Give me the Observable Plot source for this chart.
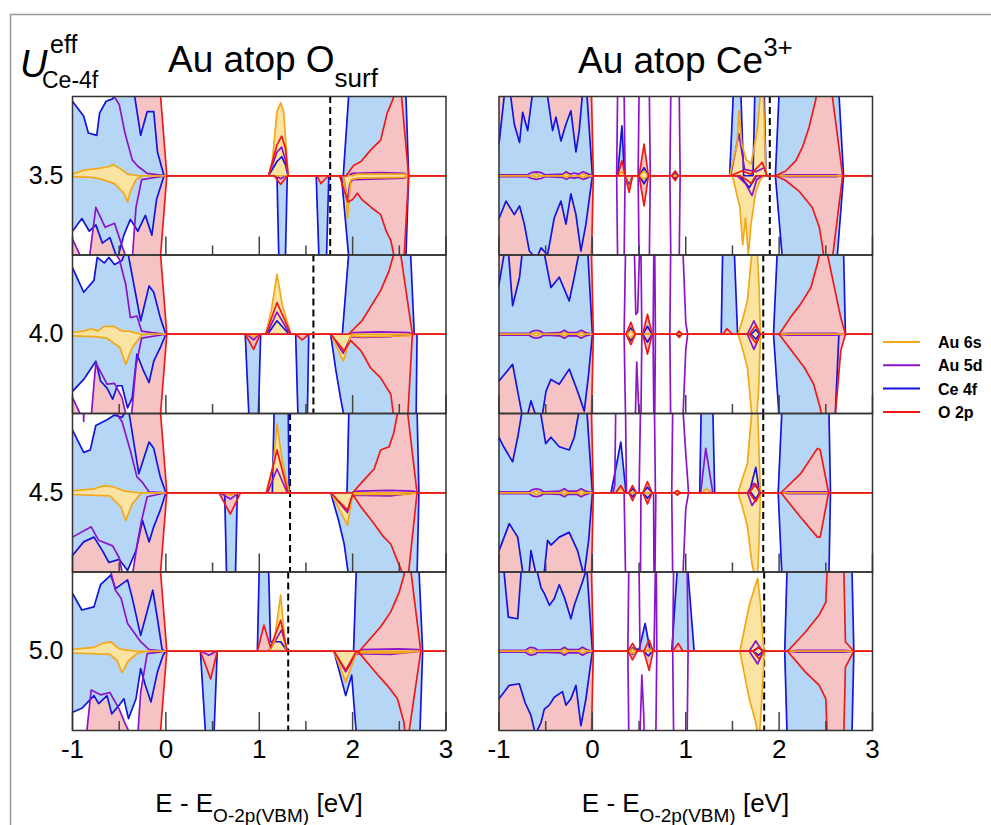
<!DOCTYPE html>
<html><head><meta charset="utf-8">
<script src="https://cdn.jsdelivr.net/npm/d3@7"></script>
<script src="https://cdn.jsdelivr.net/npm/@observablehq/plot@0.6"></script>
<style>
body{margin:0;background:#fff;}
#wrap{position:relative;width:991px;height:825px;overflow:hidden;font-family:"Liberation Sans",Arial,sans-serif;background:#fff;}
#wrap svg{position:absolute;left:0;top:0;}
</style></head><body><div id="wrap"></div>
<script>
// ---- categories ----
const columns = ["O", "Ce"];              // Au atop O_surf, Au atop Ce3+
const uValues = ["3.5", "4.0", "4.5", "5.0"];
const xTicks = [-1, 0, 1, 2, 3];
const xMinorTicks = [-0.5, 0.5, 1.5, 2.5];
const legendLabels = ["Au 6s", "Au 5d", "Ce 4f", "O 2p"];
const fermiLeft = [1.76, 1.58, 1.33, 1.31];
const fermiRight = [1.9, 1.83, 1.83, 1.84];

// ---- PDOS (flat [E, value] pairs; spin-down stored as magnitudes) ----
// Au atop O_surf, U = 3.5
const L35_o_up = [-1.05,2, -0.06,1.05, 0.01,0, 1.1,0, 1.19,0.39, 1.24,0.5, 1.28,0.35, 1.31,0, 1.93,0, 2.01,0.13, 2.09,0.18, 2.19,0.32, 2.3,0.45, 2.37,0.79, 2.43,0.96, 2.45,1.05, 2.49,1.5, 2.52,1.05, 2.6,0, 3.05,0];
const L35_o_dn = [-1.05,2, -0.06,1.05, 0.01,0, 1.16,0, 1.23,0.11, 1.3,0, 1.62,0, 1.66,0.1, 1.7,0.05, 1.74,0, 1.86,0, 1.9,0.15, 1.95,0.33, 2.0,0.3, 2.05,0.22, 2.1,0.3, 2.2,0.4, 2.3,0.49, 2.36,0.7, 2.41,0.82, 2.45,1.05, 2.5,1.4, 2.55,1.05, 2.6,0, 3.05,0];
const L35_ce_up = [-1.05,0.95, -1.0,0.94, -0.88,0.75, -0.83,0.54, -0.74,0.51, -0.71,0.79, -0.64,0.94, -0.57,0.97, -0.53,1.05, -0.34,1.05, -0.27,0.51, -0.2,0.81, -0.13,0.81, -0.09,0.3, -0.02,0, 1.1,0, 1.19,0.18, 1.24,0.24, 1.28,0.14, 1.31,0, 1.9,0, 1.96,1.05, 2.0,1.6, 2.55,1.6, 2.57,1.05, 2.6,0, 3.05,0];
const L35_ce_dn = [-1.05,0.75, -1.0,0.7, -0.9,0.54, -0.82,0.7, -0.75,0.62, -0.68,0.85, -0.6,0.78, -0.52,1.05, -0.45,0.75, -0.38,0.55, -0.3,0.7, -0.22,0.5, -0.15,0.75, -0.1,0.3, -0.02,0, 1.19,0, 1.21,1.05, 1.28,1.05, 1.3,0, 1.61,0, 1.64,1.05, 1.72,1.05, 1.745,0, 1.88,0, 1.96,1.05, 2.0,1.6, 2.55,1.6, 2.57,1.05, 2.6,0, 3.05,0];
const L35_d_up = [-1.05,2, -0.62,2, -0.58,1.05, -0.5,0.9, -0.44,0.55, -0.36,0.2, -0.3,0.12, -0.2,0.03, 0.0,0, 1.1,0, 1.19,0.3, 1.24,0.36, 1.28,0.2, 1.31,0, 1.95,0, 2.0,0.03, 2.3,0.04, 2.55,0.03, 2.6,0, 3.05,0];
const L35_d_dn = [-1.05,0.9, -1.0,0.8, -0.9,1.05, -0.82,1.05, -0.75,0.4, -0.65,0.65, -0.55,0.6, -0.48,0.85, -0.42,1.05, -0.36,1.05, -0.32,0.4, -0.26,0.05, 0.0,0, 1.18,0, 1.23,0.04, 1.28,0, 1.9,0, 1.93,0.2, 1.945,0.33, 1.97,0.1, 2.0,0.05, 2.3,0.04, 2.55,0.03, 2.6,0, 3.05,0];
const L35_s_up = [-1.05,0.01, -1.0,0.02, -0.88,0.07, -0.74,0.09, -0.63,0.11, -0.56,0.14, -0.49,0.09, -0.41,0.02, -0.3,0, 1.1,0, 1.14,0.18, 1.16,0.43, 1.19,0.81, 1.23,0.92, 1.26,0.81, 1.28,0.5, 1.31,0, 2.0,0, 2.05,0.02, 2.55,0.02, 2.6,0, 3.05,0];
const L35_s_dn = [-1.05,0.01, -0.8,0.02, -0.7,0.04, -0.55,0.1, -0.45,0.22, -0.41,0.33, -0.38,0.2, -0.32,0.05, -0.25,0, 1.9,0, 1.93,0.2, 1.945,0.54, 1.96,0.35, 1.98,0.05, 2.05,0.03, 2.55,0.02, 2.6,0, 3.05,0];
// Au atop O_surf, U = 4.0
const L40_o_up = [-1.05,2, -0.06,1.05, 0.01,0, 1.07,0, 1.19,0.4, 1.34,0, 1.955,0, 2.1,0.17, 2.19,0.34, 2.3,0.55, 2.39,0.8, 2.44,1.01, 2.48,1.5, 2.51,1.05, 2.64,0, 3.05,0];
const L40_o_dn = [-1.05,2, -0.06,1.05, 0.01,0, 0.85,0, 0.94,0.19, 1.01,0, 1.39,0, 1.46,0.07, 1.53,0, 1.765,0, 1.91,0.21, 1.98,0.08, 2.09,0.21, 2.19,0.42, 2.3,0.55, 2.41,0.76, 2.44,1.05, 2.5,1.5, 2.59,1.05, 2.64,0, 3.05,0];
const L40_ce_up = [-1.05,0.9, -1.0,0.84, -0.88,0.53, -0.77,0.68, -0.735,0.97, -0.66,0.9, -0.61,0.97, -0.55,0.88, -0.47,0.93, -0.43,1.05, -0.41,1.05, -0.27,0.17, -0.18,0.61, -0.13,0.53, -0.06,0.21, 0.0,0, 1.09,0, 1.19,0.17, 1.32,0, 1.89,0, 1.96,1.05, 2.0,1.6, 2.58,1.6, 2.62,1.05, 2.66,0, 3.05,0];
const L40_ce_dn = [-1.05,0.75, -1.0,0.72, -0.88,0.57, -0.75,0.34, -0.7,0.59, -0.63,0.68, -0.57,0.82, -0.52,0.65, -0.47,0.65, -0.41,0.93, -0.36,0.8, -0.31,0.25, -0.24,0.46, -0.18,0.61, -0.13,0.34, -0.06,0.17, 0.0,0, 0.85,0, 0.89,1.05, 0.99,1.05, 1.015,0, 1.39,0, 1.415,1.05, 1.515,1.05, 1.53,0, 1.765,0, 1.82,0.45, 1.87,0.8, 1.91,1.05, 1.95,1.6, 2.64,1.6, 2.68,1.05, 2.69,0, 3.05,0];
const L40_d_up = [-1.05,2, -0.6,2, -0.56,1.05, -0.5,0.95, -0.43,0.63, -0.38,0.21, -0.31,0.23, -0.26,0.04, -0.15,0.02, 0.0,0, 1.08,0, 1.19,0.28, 1.33,0, 1.96,0, 2.0,0.02, 2.3,0.03, 2.6,0.02, 2.65,0, 3.05,0];
const L40_d_dn = [-1.05,0.9, -1.0,0.8, -0.9,1.05, -0.8,1.05, -0.75,0.36, -0.63,0.63, -0.55,0.62, -0.47,0.8, -0.42,1.05, -0.37,1.05, -0.32,0.4, -0.26,0.05, 0.0,0, 0.87,0, 0.94,0.07, 1.0,0, 1.77,0, 1.9,0.24, 1.98,0.03, 2.1,0.04, 2.4,0.03, 2.62,0, 3.05,0];
const L40_s_up = [-1.05,0.02, -0.88,0.04, -0.8,0.07, -0.73,0.04, -0.66,0.1, -0.56,0.1, -0.47,0.04, -0.4,0.04, -0.26,0, 1.07,0, 1.13,0.3, 1.19,0.76, 1.25,0.35, 1.34,0, 3.05,0];
const L40_s_dn = [-1.05,0.02, -0.77,0.03, -0.63,0.05, -0.49,0.17, -0.43,0.38, -0.36,0.17, -0.26,0.01, -0.2,0, 0.88,0, 0.94,0.03, 0.99,0, 1.77,0, 1.9,0.34, 1.98,0.02, 2.1,0.03, 2.6,0.02, 2.65,0, 3.05,0];
// Au atop O_surf, U = 4.5
const L45_o_up = [-1.05,2, -0.06,1.05, 0.01,0, 1.08,0, 1.19,0.54, 1.31,0, 2.0,0, 2.12,0.16, 2.23,0.3, 2.3,0.54, 2.39,0.58, 2.44,0.75, 2.48,1.0, 2.52,1.5, 2.59,1.0, 2.69,0, 3.05,0];
const L45_o_dn = [-1.05,2, -0.06,1.05, 0.01,0, 0.57,0, 0.69,0.27, 0.8,0, 1.765,0, 1.944,0.22, 2.0,0.02, 2.09,0.18, 2.23,0.39, 2.32,0.54, 2.41,0.65, 2.48,0.86, 2.53,1.0, 2.56,1.5, 2.6,1.0, 2.69,0, 3.05,0];
const L45_ce_up = [-1.05,0.82, -1.0,0.79, -0.88,0.51, -0.81,0.54, -0.75,0.85, -0.63,0.92, -0.55,0.98, -0.47,0.95, -0.42,1.05, -0.4,1.05, -0.29,0.24, -0.18,0.64, -0.13,0.56, -0.06,0.2, 0.0,0, 1.14,0, 1.16,1.05, 1.31,1.05, 1.32,0, 1.94,0, 1.96,1.05, 2.0,1.6, 2.66,1.6, 2.69,1.05, 2.71,0, 3.05,0];
const L45_ce_dn = [-1.05,0.8, -1.0,0.79, -0.88,0.62, -0.77,0.56, -0.68,0.73, -0.61,0.88, -0.5,0.84, -0.41,0.98, -0.32,0.73, -0.25,0.35, -0.18,0.62, -0.13,0.43, -0.06,0.22, 0.0,0, 0.63,0, 0.65,1.05, 0.745,1.05, 0.765,0, 1.765,0, 1.85,0.35, 1.91,0.65, 1.944,0.94, 1.96,1.05, 2.0,1.6, 2.66,1.6, 2.69,1.05, 2.71,0, 3.05,0];
const L45_d_up = [-1.05,2, -0.9,2, -0.88,0.9, -0.86,2, -0.6,2, -0.56,1.05, -0.47,0.9, -0.38,0.53, -0.31,0.2, -0.25,0.13, -0.18,0.01, 0.0,0, 1.09,0, 1.19,0.3, 1.3,0, 2.0,0, 2.05,0.02, 2.4,0.03, 2.65,0.02, 2.7,0, 3.05,0];
const L45_d_dn = [-1.05,0.6, -1.0,0.56, -0.8,0.43, -0.72,0.6, -0.57,0.67, -0.5,0.82, -0.46,1.05, -0.36,1.05, -0.3,0.6, -0.26,0.35, -0.2,0.05, 0.0,0, 0.58,0, 0.69,0.08, 0.78,0, 1.77,0, 1.944,0.25, 2.0,0.03, 2.4,0.04, 2.69,0, 3.05,0];
const L45_s_up = [-1.05,0.02, -0.77,0.05, -0.66,0.09, -0.55,0.07, -0.44,0.02, -0.3,0, 1.07,0, 1.15,0.35, 1.19,0.87, 1.24,0.45, 1.32,0, 3.05,0];
const L45_s_dn = [-1.05,0.02, -0.6,0.04, -0.48,0.18, -0.43,0.35, -0.36,0.14, -0.26,0, 0.6,0, 0.69,0.03, 0.77,0, 1.77,0, 1.944,0.41, 2.0,0.02, 2.6,0.02, 2.69,0, 3.05,0];
// Au atop O_surf, U = 5.0
const L50_o_up = [-1.05,2, -0.06,1.05, 0.01,0, 0.98,0, 1.05,0.33, 1.12,0.05, 1.23,0.39, 1.3,0, 2.07,0, 2.16,0.12, 2.3,0.31, 2.41,0.5, 2.5,0.75, 2.55,0.96, 2.58,1.5, 2.62,1.05, 2.73,0, 3.05,0];
const L50_o_dn = [-1.05,2, -0.06,1.05, 0.01,0, 0.37,0, 0.48,0.35, 0.55,0, 1.8,0, 1.926,0.24, 2.04,0.0, 2.07,0.02, 2.27,0.3, 2.37,0.43, 2.48,0.6, 2.55,0.9, 2.58,1.3, 2.6,1.05, 2.73,0, 3.05,0];
const L50_ce_up = [-1.05,0.75, -1.0,0.73, -0.9,0.52, -0.77,0.56, -0.7,0.84, -0.59,0.96, -0.54,0.79, -0.48,0.84, -0.41,0.9, -0.36,0.67, -0.27,0.2, -0.14,0.77, -0.09,0.41, -0.04,0.02, 0.0,0, 0.98,0, 1.0,1.05, 1.1,1.05, 1.12,0.12, 1.23,0.12, 1.3,0, 2.01,0, 2.04,1.05, 2.08,1.6, 2.68,1.6, 2.71,1.05, 2.75,0, 3.05,0];
const L50_ce_dn = [-1.05,0.8, -1.0,0.77, -0.9,0.72, -0.77,0.56, -0.72,0.66, -0.63,0.56, -0.58,0.79, -0.5,0.68, -0.45,0.6, -0.4,0.85, -0.32,0.6, -0.27,0.22, -0.22,0.43, -0.16,0.64, -0.09,0.26, -0.03,0.05, 0.0,0, 0.37,0, 0.425,1.05, 0.515,1.05, 0.55,0, 1.8,0, 1.926,0.56, 1.99,0.3, 2.04,1.05, 2.08,1.6, 2.7,1.6, 2.72,1.05, 2.75,0, 3.05,0];
const L50_d_up = [-1.05,2, -0.66,2, -0.6,1.05, -0.54,0.77, -0.48,0.67, -0.41,0.35, -0.27,0.12, -0.18,0.02, 0.0,0, 1.08,0, 1.12,0.03, 1.24,0.27, 1.3,0, 2.07,0, 2.1,0.02, 2.5,0.03, 2.7,0.02, 2.75,0, 3.05,0];
const L50_d_dn = [-1.05,1.05, -0.85,1.05, -0.8,0.49, -0.7,0.55, -0.6,0.52, -0.5,0.73, -0.43,0.93, -0.38,1.05, -0.3,1.05, -0.27,0.52, -0.2,0.03, 0.0,0, 0.38,0, 0.46,0.05, 0.54,0, 1.8,0, 1.926,0.26, 2.04,0.03, 2.4,0.04, 2.73,0, 3.05,0];
const L50_s_up = [-1.05,0.02, -0.77,0.05, -0.68,0.1, -0.59,0.12, -0.5,0.03, -0.4,0.01, -0.3,0, 1.1,0, 1.16,0.12, 1.23,0.71, 1.28,0.05, 1.3,0, 3.05,0];
const L50_s_dn = [-1.05,0.02, -0.6,0.04, -0.52,0.12, -0.47,0.27, -0.4,0.12, -0.3,0.02, -0.2,0, 1.8,0, 1.926,0.39, 2.04,0.02, 2.5,0.02, 2.73,0, 3.05,0];
// Au atop Ce3+, U = 3.5
const R35_o_up = [-1.05,2, -0.01,1.05, 0.01,0, 0.27,0, 0.316,0.19, 0.35,0, 0.5,0, 0.554,0.4, 0.6,0, 0.85,0, 0.886,0.06, 0.92,0, 1.48,0, 1.6,0.06, 1.7,0.02, 1.82,0.17, 1.87,0, 1.963,0, 2.07,0.06, 2.18,0.19, 2.25,0.36, 2.32,0.61, 2.39,0.95, 2.43,1.2, 2.5,1.4, 2.55,1.2, 2.57,1.0, 2.68,0, 3.05,0];
const R35_o_dn = [-1.05,2, -0.01,1.05, 0.01,0, 0.35,0, 0.394,0.21, 0.43,0, 0.5,0, 0.554,0.38, 0.6,0, 0.85,0, 0.886,0.06, 0.92,0, 1.58,0, 1.65,0.05, 1.7,0.1, 1.75,0, 1.963,0, 2.07,0.06, 2.21,0.19, 2.355,0.4, 2.43,0.65, 2.46,0.86, 2.48,1.05, 2.52,1.3, 2.57,1.05, 2.68,0, 3.05,0];
const R35_ce_up = [-1.05,0.3, -0.996,0.44, -0.94,1.05, -0.88,1.05, -0.836,0.65, -0.78,0.42, -0.747,0.8, -0.693,0.57, -0.64,1.05, -0.53,1.05, -0.48,1.0, -0.426,0.57, -0.39,0.74, -0.337,0.44, -0.283,0.65, -0.23,0.82, -0.176,0.3, -0.141,0.57, -0.105,1.05, -0.06,1.05, 0.0,0, 0.27,0, 0.3,0.4, 0.316,0.63, 0.335,0.2, 0.35,0, 0.5,0, 0.554,0.1, 0.6,0, 0.85,0, 0.886,0.04, 0.92,0, 1.47,0, 1.51,1.05, 1.59,1.05, 1.62,0, 1.72,0, 1.74,1.05, 1.84,1.05, 1.86,0, 1.96,0, 2.0,1.05, 2.04,1.6, 2.6,1.6, 2.64,1.05, 2.69,0, 3.05,0];
const R35_ce_dn = [-1.05,0.6, -0.996,0.53, -0.925,0.32, -0.836,0.49, -0.78,0.38, -0.729,0.61, -0.675,0.95, -0.6,1.05, -0.55,0.91, -0.48,1.0, -0.408,0.53, -0.337,0.32, -0.283,0.61, -0.23,0.23, -0.176,0.49, -0.123,0.95, -0.069,0.61, 0.0,0, 0.35,0, 0.394,0.12, 0.43,0, 0.5,0, 0.554,0.1, 0.6,0, 0.85,0, 0.886,0.04, 0.92,0, 1.58,0, 1.68,0.15, 1.76,0, 1.96,0, 2.035,1.05, 2.07,1.6, 2.58,1.6, 2.62,1.05, 2.69,0, 3.05,0];
const R35_d_up = [-1.05,0.01, -0.7,0.01, -0.65,0.04, -0.6,0.05, -0.55,0.04, -0.5,0.01, -0.32,0.02, -0.28,0.05, -0.24,0.02, -0.19,0.035, -0.15,0.02, -0.1,0.05, -0.06,0.03, 0.0,0, 0.26,0, 0.27,1.05, 0.28,2, 0.33,2, 0.34,1.05, 0.35,0, 0.49,0, 0.5,1.05, 0.51,2, 0.6,2, 0.61,1.05, 0.62,0, 0.83,0, 0.84,1.05, 0.85,2, 0.92,2, 0.93,1.05, 0.94,0, 1.48,0, 1.57,0.53, 1.63,0.08, 1.75,0.05, 1.84,0.1, 1.87,0, 1.97,0, 2.1,0.01, 2.6,0.01, 2.7,0, 3.05,0];
const R35_d_dn = [-1.05,0.01, -0.7,0.01, -0.65,0.035, -0.6,0.045, -0.55,0.035, -0.5,0.01, -0.32,0.02, -0.28,0.045, -0.24,0.02, -0.19,0.03, -0.15,0.02, -0.1,0.045, -0.06,0.03, 0.0,0, 0.26,0, 0.27,1.05, 0.28,2, 0.33,2, 0.34,1.05, 0.35,0, 0.49,0, 0.5,1.05, 0.51,2, 0.6,2, 0.61,1.05, 0.62,0, 0.83,0, 0.84,1.05, 0.85,2, 0.92,2, 0.93,1.05, 0.94,0, 1.55,0, 1.64,0.1, 1.71,0.25, 1.76,0.05, 1.82,0, 1.97,0, 2.1,0.01, 2.6,0.01, 2.7,0, 3.05,0];
const R35_s_up = [-1.05,0, -0.64,0, -0.6,0.025, -0.56,0, -0.32,0, -0.28,0.025, -0.24,0, -0.14,0, -0.1,0.025, -0.06,0, 0.27,0, 0.316,0.05, 0.35,0, 0.5,0, 0.554,0.06, 0.6,0, 1.47,0, 1.55,0.4, 1.57,0.82, 1.6,0.4, 1.65,0.2, 1.7,0.15, 1.77,0.6, 1.8,1.05, 1.83,1.05, 1.86,0, 3.05,0];
const R35_s_dn = [-1.05,0, -0.64,0, -0.6,0.025, -0.56,0, -0.32,0, -0.28,0.025, -0.24,0, -0.14,0, -0.1,0.025, -0.06,0, 0.35,0, 0.394,0.17, 0.43,0, 0.5,0, 0.554,0.04, 0.6,0, 1.5,0, 1.58,0.4, 1.61,0.87, 1.64,0.53, 1.67,1.0, 1.7,0.6, 1.75,0.2, 1.8,0.05, 1.84,0, 3.05,0];
// Au atop Ce3+, U = 4.0
const R40_o_up = [-1.05,2, -0.01,1.05, 0.01,0, 0.36,0, 0.412,0.15, 0.46,0, 0.54,0, 0.59,0.25, 0.64,0, 0.9,0, 0.929,0.04, 0.96,0, 1.4,0, 1.44,0.07, 1.5,0, 1.68,0, 1.75,0.11, 1.8,0, 2.0,0, 2.12,0.21, 2.23,0.38, 2.34,0.59, 2.41,0.89, 2.44,1.05, 2.48,1.4, 2.51,1.05, 2.66,0.21, 2.71,0, 3.05,0];
const R40_o_dn = [-1.05,2, -0.01,1.05, 0.01,0, 0.36,0, 0.412,0.13, 0.46,0, 0.54,0, 0.59,0.25, 0.64,0, 0.9,0, 0.929,0.04, 0.96,0, 1.68,0, 1.75,0.11, 1.8,0, 2.0,0, 2.16,0.25, 2.27,0.42, 2.37,0.63, 2.44,0.93, 2.46,1.05, 2.52,1.4, 2.6,1.05, 2.66,0.21, 2.71,0, 3.05,0];
const R40_ce_up = [-1.05,0.5, -1.0,0.63, -0.94,1.05, -0.9,1.05, -0.854,0.36, -0.78,0.72, -0.75,1.05, -0.52,1.05, -0.444,0.59, -0.355,0.72, -0.248,0.42, -0.194,0.72, -0.14,1.05, -0.05,1.05, 0.0,0, 0.37,0, 0.412,0.08, 0.45,0, 0.54,0, 0.59,0.1, 0.64,0, 0.9,0, 0.929,0.03, 0.96,0, 1.38,0, 1.395,1.05, 1.52,1.05, 1.555,0, 1.7,0, 1.75,0.06, 1.79,0, 1.94,0, 1.98,1.05, 2.02,1.6, 2.65,1.6, 2.69,1.05, 2.71,0, 3.05,0];
const R40_ce_dn = [-1.05,0.5, -1.0,0.59, -0.854,0.38, -0.8,0.72, -0.747,1.05, -0.7,1.05, -0.658,0.84, -0.6,1.05, -0.54,1.05, -0.497,0.72, -0.444,0.57, -0.355,0.63, -0.248,0.44, -0.159,0.72, -0.087,0.97, -0.04,0.5, 0.0,0, 0.37,0, 0.412,0.08, 0.45,0, 0.54,0, 0.59,0.1, 0.64,0, 0.9,0, 0.929,0.03, 0.96,0, 1.7,0, 1.75,0.06, 1.79,0, 1.94,0, 2.0,1.05, 2.04,1.6, 2.56,1.6, 2.6,1.05, 2.64,0, 3.05,0];
const R40_d_up = [-1.05,0.01, -0.68,0.01, -0.64,0.04, -0.6,0.05, -0.56,0.04, -0.52,0.01, -0.35,0.02, -0.3,0.05, -0.26,0.02, -0.17,0.02, -0.12,0.05, -0.07,0.02, 0.0,0, 0.34,0, 0.355,1.05, 0.365,2, 0.44,2, 0.45,1.05, 0.465,0.25, 0.485,0.28, 0.505,1.05, 0.515,2, 0.52,1.05, 0.53,0, 0.65,0, 0.658,1.05, 0.663,2, 0.668,1.05, 0.675,0, 0.83,0, 0.838,1.05, 0.845,2, 0.95,2, 0.97,1.05, 1.0,0.15, 1.02,0, 1.66,0, 1.73,0.17, 1.8,0, 1.97,0, 2.1,0.01, 2.6,0.01, 2.7,0, 3.05,0];
const R40_d_dn = [-1.05,0.01, -0.68,0.01, -0.64,0.04, -0.6,0.05, -0.56,0.04, -0.52,0.01, -0.35,0.02, -0.3,0.05, -0.26,0.02, -0.17,0.02, -0.12,0.05, -0.07,0.02, 0.0,0, 0.34,0, 0.355,1.05, 0.365,2, 0.45,2, 0.46,1.05, 0.475,0.35, 0.5,1.05, 0.51,2, 0.52,1.05, 0.53,0, 0.65,0, 0.658,1.05, 0.663,2, 0.668,1.05, 0.675,0, 0.83,0, 0.838,1.05, 0.845,2, 0.95,2, 0.97,1.05, 1.0,0.2, 1.02,0, 1.66,0, 1.73,0.19, 1.8,0, 1.97,0, 2.1,0.01, 2.6,0.01, 2.7,0, 3.05,0];
const R40_s_up = [-1.05,0, -0.64,0, -0.6,0.025, -0.56,0, -0.34,0, -0.3,0.025, -0.26,0, -0.16,0, -0.12,0.025, -0.08,0, 0.37,0, 0.412,0.05, 0.45,0, 1.56,0, 1.6,0.15, 1.66,0.42, 1.71,1.05, 1.73,1.6, 1.75,1.6, 1.766,1.05, 1.784,0.63, 1.8,0, 3.05,0];
const R40_s_dn = [-1.05,0, -0.64,0, -0.6,0.025, -0.56,0, -0.34,0, -0.3,0.025, -0.26,0, -0.16,0, -0.12,0.025, -0.08,0, 0.37,0, 0.412,0.05, 0.45,0, 1.56,0, 1.6,0.15, 1.66,0.42, 1.71,1.05, 1.73,1.6, 1.75,1.6, 1.76,1.05, 1.78,0.72, 1.8,0, 3.05,0];
// Au atop Ce3+, U = 4.5
const R45_o_up = [-1.05,2, -0.01,1.05, 0.01,0, 0.25,0, 0.305,0.09, 0.35,0, 0.39,0, 0.43,0.09, 0.47,0, 0.54,0, 0.59,0.14, 0.64,0, 0.88,0, 0.91,0.03, 0.94,0, 1.68,0, 1.75,0.11, 1.8,0, 2.02,0, 2.23,0.24, 2.41,0.56, 2.44,0.54, 2.53,0, 3.05,0];
const R45_o_dn = [-1.05,2, -0.01,1.05, 0.01,0, 0.39,0, 0.43,0.1, 0.47,0, 0.54,0, 0.59,0.14, 0.64,0, 0.88,0, 0.91,0.03, 0.94,0, 1.68,0, 1.75,0.11, 1.8,0, 2.02,0, 2.23,0.31, 2.41,0.56, 2.44,0.56, 2.53,0, 3.05,0];
const R45_ce_up = [-1.05,0.6, -1.0,0.7, -0.95,0.58, -0.854,0.39, -0.8,0.7, -0.75,1.05, -0.56,1.05, -0.5,0.62, -0.444,0.7, -0.355,0.58, -0.248,0.54, -0.194,0.7, -0.14,1.05, -0.06,1.05, 0.0,0, 0.2,0, 0.305,0.64, 0.36,0, 0.39,0, 0.43,0.05, 0.47,0, 0.54,0, 0.59,0.07, 0.64,0, 1.15,0, 1.165,1.05, 1.29,1.05, 1.31,0, 1.68,0, 1.75,0.32, 1.79,0, 1.99,0, 2.03,1.05, 2.07,1.6, 2.5,1.6, 2.533,1.05, 2.55,0, 3.05,0];
const R45_ce_dn = [-1.05,0.8, -1.0,0.73, -0.89,0.39, -0.8,0.56, -0.74,1.05, -0.68,1.05, -0.658,0.73, -0.6,1.05, -0.52,1.05, -0.48,0.6, -0.444,0.66, -0.355,0.56, -0.248,0.5, -0.159,0.73, -0.09,1.05, -0.04,0.6, 0.0,0, 0.39,0, 0.43,0.05, 0.47,0, 0.54,0, 0.59,0.07, 0.64,0, 1.7,0, 1.75,0.08, 1.79,0, 1.99,0, 2.03,1.05, 2.07,1.6, 2.5,1.6, 2.533,1.05, 2.55,0, 3.05,0];
const R45_d_up = [-1.05,0.01, -0.68,0.01, -0.64,0.04, -0.6,0.05, -0.56,0.04, -0.52,0.01, -0.35,0.02, -0.3,0.05, -0.26,0.02, -0.17,0.02, -0.12,0.05, -0.07,0.02, 0.0,0, 0.22,0, 0.24,0.1, 0.25,1.05, 0.26,2, 0.34,2, 0.355,1.05, 0.365,0, 0.5,0, 0.515,1.05, 0.52,2, 0.66,2, 0.665,1.05, 0.675,0, 0.85,0, 0.86,1.05, 0.87,2, 0.96,2, 0.97,1.05, 1.0,0.5, 1.03,0, 1.16,0, 1.214,0.56, 1.29,0, 1.66,0, 1.73,0.12, 1.8,0, 2.02,0, 2.1,0.01, 2.5,0.01, 2.55,0, 3.05,0];
const R45_d_dn = [-1.05,0.01, -0.68,0.01, -0.64,0.04, -0.6,0.05, -0.56,0.04, -0.52,0.01, -0.35,0.02, -0.3,0.05, -0.26,0.02, -0.17,0.02, -0.12,0.05, -0.07,0.02, 0.0,0, 0.34,0, 0.355,1.05, 0.365,2, 0.5,2, 0.515,1.05, 0.52,0, 0.655,0, 0.66,1.05, 0.665,2, 0.67,1.05, 0.68,0, 0.85,0, 0.86,1.05, 0.87,2, 0.96,2, 0.97,1.05, 1.0,0.2, 1.03,0, 1.66,0, 1.71,0.16, 1.8,0, 2.02,0, 2.1,0.01, 2.5,0.01, 2.55,0, 3.05,0];
const R45_s_up = [-1.05,0, -0.64,0, -0.6,0.025, -0.56,0, -0.34,0, -0.3,0.025, -0.26,0, -0.16,0, -0.12,0.025, -0.08,0, 0.25,0, 0.305,0.06, 0.35,0, 1.17,0, 1.22,0.05, 1.28,0, 1.56,0, 1.6,0.15, 1.66,0.37, 1.71,1.05, 1.73,1.6, 1.75,1.6, 1.77,1.05, 1.785,0.5, 1.8,0, 3.05,0];
const R45_s_dn = [-1.05,0, -0.64,0, -0.6,0.025, -0.56,0, -0.34,0, -0.3,0.025, -0.26,0, -0.16,0, -0.12,0.025, -0.08,0, 1.56,0, 1.6,0.15, 1.66,0.42, 1.71,0.9, 1.74,1.05, 1.77,1.05, 1.785,0.6, 1.8,0, 3.05,0];
// Au atop Ce3+, U = 5.0
const R50_o_up = [-1.05,2, -0.01,1.05, 0.01,0, 0.38,0, 0.43,0.1, 0.48,0, 0.55,0, 0.608,0.14, 0.65,0, 0.86,0, 0.92,0.1, 0.97,0, 1.72,0, 1.79,0.05, 1.83,0, 2.09,0, 2.28,0.24, 2.43,0.46, 2.5,0.62, 2.515,1.05, 2.53,1.6, 2.68,1.6, 2.693,1.05, 2.71,0.12, 2.8,0, 3.05,0];
const R50_o_dn = [-1.05,2, -0.01,1.05, 0.01,0, 0.38,0, 0.43,0.11, 0.48,0, 0.55,0, 0.608,0.24, 0.65,0, 1.72,0, 1.79,0.1, 1.83,0, 2.09,0, 2.28,0.26, 2.43,0.43, 2.5,0.6, 2.515,1.05, 2.53,1.6, 2.68,1.6, 2.693,1.05, 2.71,0.2, 2.8,0, 3.05,0];
const R50_ce_up = [-1.05,1.05, -0.95,1.05, -0.9,0.43, -0.8,0.41, -0.76,1.05, -0.6,1.05, -0.55,0.8, -0.515,0.73, -0.46,0.58, -0.41,0.66, -0.355,0.84, -0.3,0.68, -0.23,0.41, -0.194,0.58, -0.105,0.88, -0.06,1.05, 0.0,0, 0.4,0, 0.43,0.04, 0.5,0.02, 0.565,0.35, 0.62,0, 0.85,0, 0.91,1.05, 0.93,1.6, 1.0,1.6, 1.02,1.05, 1.09,0, 1.72,0, 1.78,0.05, 1.83,0, 2.06,0, 2.085,1.05, 2.12,1.6, 2.75,1.6, 2.78,1.05, 2.8,0, 3.05,0];
const R50_ce_dn = [-1.05,0.6, -1.0,0.6, -0.89,0.43, -0.783,0.41, -0.72,0.65, -0.658,0.81, -0.61,1.05, -0.55,0.9, -0.515,0.73, -0.462,0.68, -0.408,0.58, -0.32,0.51, -0.283,0.68, -0.23,0.6, -0.176,0.43, -0.123,0.94, -0.069,0.6, 0.0,0, 0.4,0, 0.43,0.04, 0.46,0, 0.55,0, 0.6,0.06, 0.64,0, 1.72,0, 1.78,0.05, 1.83,0, 2.06,0, 2.085,1.05, 2.12,1.6, 2.75,1.6, 2.78,1.05, 2.8,0, 3.05,0];
const R50_d_up = [-1.05,0.01, -0.72,0.01, -0.68,0.04, -0.66,0.05, -0.62,0.04, -0.58,0.01, -0.34,0.02, -0.3,0.05, -0.26,0.02, -0.15,0.02, -0.105,0.05, -0.06,0.02, 0.0,0, 0.38,0, 0.39,1.05, 0.4,2, 0.49,2, 0.5,1.05, 0.51,0, 0.66,0, 0.675,1.05, 0.68,2, 0.685,1.05, 0.69,0, 0.86,0, 0.87,1.05, 0.88,2, 1.0,2, 1.015,1.05, 1.025,0, 1.68,0, 1.75,0.13, 1.82,0, 2.09,0, 2.2,0.01, 2.7,0.01, 2.8,0, 3.05,0];
const R50_d_dn = [-1.05,0.01, -0.72,0.01, -0.68,0.04, -0.66,0.05, -0.62,0.04, -0.58,0.01, -0.34,0.02, -0.3,0.05, -0.26,0.02, -0.15,0.02, -0.105,0.05, -0.06,0.02, 0.0,0, 0.38,0, 0.39,1.05, 0.4,2, 0.5,2, 0.51,1.05, 0.53,0.3, 0.55,0.8, 0.555,1.05, 0.56,2, 0.675,2, 0.68,1.05, 0.69,0, 0.86,0, 0.87,1.05, 0.88,2, 1.0,2, 1.015,1.05, 1.025,0, 1.68,0, 1.77,0.16, 1.83,0, 2.09,0, 2.2,0.01, 2.7,0.01, 2.8,0, 3.05,0];
const R50_s_up = [-1.05,0, -0.7,0, -0.66,0.025, -0.62,0, -0.34,0, -0.3,0.025, -0.26,0, -0.15,0, -0.105,0.025, -0.06,0, 0.4,0, 0.43,0.03, 0.46,0, 0.57,0, 0.608,0.03, 0.64,0, 1.58,0, 1.68,0.58, 1.77,0.92, 1.8,0.6, 1.83,0.1, 1.84,0, 3.05,0];
const R50_s_dn = [-1.05,0, -0.7,0, -0.66,0.025, -0.62,0, -0.34,0, -0.3,0.025, -0.26,0, -0.15,0, -0.105,0.025, -0.06,0, 0.4,0, 0.43,0.03, 0.46,0, 1.58,0, 1.68,0.6, 1.75,0.9, 1.77,1.05, 1.79,1.05, 1.82,0.5, 1.84,0, 3.05,0];

// ---- assemble the table ----
const panelSeries = [
  ["O","3.5",[L35_o_up,L35_o_dn,L35_d_up,L35_d_dn,L35_ce_up,L35_ce_dn,L35_s_up,L35_s_dn]],
  ["O","4.0",[L40_o_up,L40_o_dn,L40_d_up,L40_d_dn,L40_ce_up,L40_ce_dn,L40_s_up,L40_s_dn]],
  ["O","4.5",[L45_o_up,L45_o_dn,L45_d_up,L45_d_dn,L45_ce_up,L45_ce_dn,L45_s_up,L45_s_dn]],
  ["O","5.0",[L50_o_up,L50_o_dn,L50_d_up,L50_d_dn,L50_ce_up,L50_ce_dn,L50_s_up,L50_s_dn]],
  ["Ce","3.5",[R35_o_up,R35_o_dn,R35_d_up,R35_d_dn,R35_ce_up,R35_ce_dn,R35_s_up,R35_s_dn]],
  ["Ce","4.0",[R40_o_up,R40_o_dn,R40_d_up,R40_d_dn,R40_ce_up,R40_ce_dn,R40_s_up,R40_s_dn]],
  ["Ce","4.5",[R45_o_up,R45_o_dn,R45_d_up,R45_d_dn,R45_ce_up,R45_ce_dn,R45_s_up,R45_s_dn]],
  ["Ce","5.0",[R50_o_up,R50_o_dn,R50_d_up,R50_d_dn,R50_ce_up,R50_ce_dn,R50_s_up,R50_s_dn]]
];
const seriesOrder = [["o",1],["o",-1],["d",1],["d",-1],["ce",1],["ce",-1],["s",1],["s",-1]];
const rows = [];
for (const [col, U, list] of panelSeries) {
  list.forEach((flat, i) => {
    const [sp, sign] = seriesOrder[i];
    const key = `${col}|${U}|${sp}|${sign}`;
    for (let j = 0; j < flat.length; j += 2) rows.push({col, U, sp, key, E: flat[j], v: sign * flat[j + 1]});
  });
}
const fermi = [
  ...uValues.map((U, i) => ({col: "O", U, E: fermiLeft[i]})),
  ...uValues.map((U, i) => ({col: "Ce", U, E: fermiRight[i]}))
];

const style = {
  o:  {fill: "#f5c3c3", stroke: "#f01818"},
  d:  {fill: "#ffffff", stroke: "#8c14c8"},
  ce: {fill: "#b6d6f5", stroke: "#1414dc"},
  s:  {fill: "#fbe3a2", stroke: "#f2a818"}
};
const areaOpts = (fill) => ({x: "E", y: "v", z: "key", fx: "col", fy: "U", fill, clip: true});

const marks = [];
// valence-band layering: O 2p under Au 5d under Ce 4f
marks.push(Plot.areaY(rows.filter(r => r.sp === "o"), areaOpts(style.o.fill)));
marks.push(Plot.areaY(rows.filter(r => r.sp === "d"), areaOpts(style.d.fill)));
marks.push(Plot.areaY(rows.filter(r => r.sp === "ce"), areaOpts(style.ce.fill)));
// gap / conduction-band O 2p states drawn over the Ce 4f band
marks.push(Plot.areaY(rows.filter(r => r.sp === "o" && r.E > 0.05), areaOpts(style.o.fill)));
marks.push(Plot.areaY(rows.filter(r => r.sp === "s"), areaOpts(style.s.fill)));
marks.push(Plot.ruleX(fermi, {x: "E", fx: "col", fy: "U", stroke: "#000", strokeWidth: 2, strokeDasharray: "7,4"}));
for (const sp of ["ce", "d", "s", "o"]) {
  marks.push(Plot.lineY(rows.filter(r => r.sp === sp), {x: "E", y: "v", z: "key", fx: "col", fy: "U", stroke: style[sp].stroke, strokeWidth: 1.7, clip: true}));
}
marks.push(Plot.tickX(xTicks, {x: d => d, insetTop: 140.5, stroke: "#444", strokeWidth: 1.5}));
marks.push(Plot.tickX(xMinorTicks, {x: d => d, insetTop: 149.5, stroke: "#444", strokeWidth: 1.5}));
marks.push(Plot.frame({stroke: "#333", strokeWidth: 1.5}));
marks.push(Plot.axisFy({anchor: "left", tickSize: 0, tickPadding: 9, fontSize: 25, label: null}));
marks.push(Plot.axisX(xTicks, {anchor: "bottom", tickSize: 0, tickPadding: 9, fontSize: 26, tickFormat: d => String(d), label: null}));

const chart = Plot.plot({
  width: 991, height: 825,
  marginLeft: 72, marginRight: 119, marginTop: 96, marginBottom: 95,
  style: {fontFamily: "Liberation Sans, Arial, sans-serif", background: "transparent", color: "#000"},
  x: {domain: [-1, 3], axis: null},
  y: {domain: [-1, 1], axis: null},
  fx: {domain: columns, axis: null, paddingInner: 0.1243, paddingOuter: 0, round: false},
  fy: {domain: uValues, axis: null, padding: 0, round: false},
  marks
});
const wrap = document.getElementById("wrap");
wrap.appendChild(chart);

// ---- text overlay: titles, axis labels, legend, outer frame ----
const svg = d3.select(wrap).append("svg").attr("width", 991).attr("height", 825)
  .style("font-family", "Liberation Sans, Arial, sans-serif").style("white-space", "pre");
svg.append("path").attr("d", "M10.5,825V14.5H991").attr("fill", "none").attr("stroke", "#999").attr("stroke-width", 1.5);

const t1 = svg.append("text").attr("x", 168).attr("y", 72).attr("font-size", 37);
t1.append("tspan").text("Au atop O");
t1.append("tspan").attr("font-size", 26).attr("dy", 15).text("surf");
const t2 = svg.append("text").attr("x", 578).attr("y", 73).attr("font-size", 37);
t2.append("tspan").text("Au atop Ce");
t2.append("tspan").attr("font-size", 26).attr("dy", -17).text("3+");

svg.append("text").attr("x", 20).attr("y", 77).attr("font-size", 38).attr("font-style", "italic").text("U");
svg.append("text").attr("x", 50).attr("y", 53).attr("font-size", 25).text("eff");
svg.append("text").attr("x", 42).attr("y", 88).attr("font-size", 23).text("Ce-4f");

for (const cx of [259, 685.5]) {
  const t = svg.append("text").attr("x", cx).attr("y", 812).attr("font-size", 26).attr("text-anchor", "middle");
  t.append("tspan").text("E - E");
  t.append("tspan").attr("font-size", 19).attr("dy", 10).text("O-2p(VBM)");
  t.append("tspan").attr("dy", -10).text(" [eV]");
}

const legendColors = [style.s.stroke, style.d.stroke, style.ce.stroke, style.o.stroke];
legendLabels.forEach((lab, i) => {
  const y = 342 + i * 23.3;
  svg.append("line").attr("x1", 883).attr("x2", 920).attr("y1", y).attr("y2", y).attr("stroke", legendColors[i]).attr("stroke-width", 2);
  svg.append("text").attr("x", 938).attr("y", y + 6).attr("font-size", 16).attr("font-weight", "bold").text(lab);
});
</script>
</body></html>
